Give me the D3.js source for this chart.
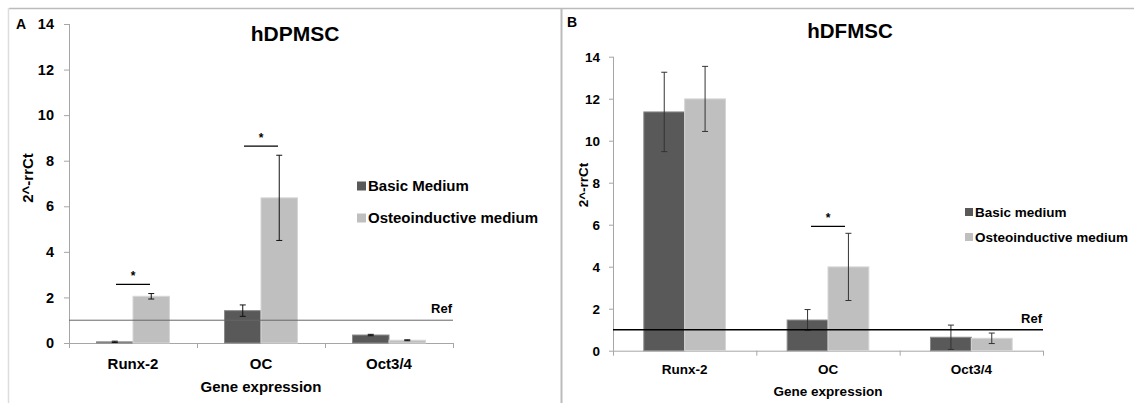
<!DOCTYPE html>
<html>
<head>
<meta charset="utf-8">
<script src="https://cdn.jsdelivr.net/npm/d3@7"></script>
<style>
  body { margin: 0; background: #fff; }
  svg { display: block; font-family: 'Liberation Sans', Arial, sans-serif; font-weight: bold; }
</style>
</head>
<body>
<script>
// categories and tick values
const genes = ['Runx-2', 'OC', 'Oct3/4'];
const yTicks = [0, 2, 4, 6, 8, 10, 12, 14];
const seriesNames = ['basic', 'osteo'];

// panel A (hDPMSC)
const basicA = [0.05, 1.42, 0.35];
const basicErrA = [0.03, 0.25, 0.03];
const osteoA = [2.05, 6.37, 0.12];
const osteoErrA = [0.12, 1.87, 0.02];
const sigA = [['Runx-2', 2.57], ['OC', 8.64]];
const legendA = ['Basic Medium', 'Osteoinductive medium'];

// panel B (hDFMSC)
const basicB = [11.37, 1.46, 0.64];
const basicErrB = [1.89, 0.5, 0.58];
const osteoB = [11.99, 3.99, 0.59];
const osteoErrB = [1.55, 1.6, 0.25];
const sigB = [['OC', 5.92]];
const legendB = ['Basic medium', 'Osteoinductive medium'];

const colors = { basic: '#595959', osteo: '#bfbfbf' };

let svg = d3.select('body')
  .append('svg')
  .attr('width', 1134)
  .attr('height', 403);

// panel frame lines
svg.append('line').attr('x1', 9).attr('x2', 1134).attr('y1', 8.5).attr('y2', 8.5)
  .attr('stroke', '#bbb').attr('stroke-width', 1.5);
svg.append('line').attr('x1', 8.5).attr('x2', 8.5).attr('y1', 8).attr('y2', 403)
  .attr('stroke', '#ddd').attr('stroke-width', 1.5);
svg.append('line').attr('x1', 561.5).attr('x2', 561.5).attr('y1', 8).attr('y2', 403)
  .attr('stroke', '#bbb').attr('stroke-width', 2);

const sigAt = (g, list, x, y) => {
  list.forEach(([gene, level]) => {
    let c = x(gene) + x.bandwidth() / 2;
    g.append('line').attr('x1', c - 17).attr('x2', c + 17)
      .attr('y1', y(level)).attr('y2', y(level))
      .attr('stroke', '#000').attr('stroke-width', 1.2);
    g.append('text').attr('x', c).attr('y', y(level) - 4)
      .attr('text-anchor', 'middle').attr('font-size', 12).text('*');
  });
};

const drawPanel = (p) => {
  let g = svg.append('g');

  let x = d3.scaleBand().domain(genes).range([p.left, p.right]);
  let y = d3.scaleLinear().domain([0, 14]).range([p.bottom, p.top]);
  let groupW = x.bandwidth() * 0.57;
  let x1 = d3.scaleBand().domain(seriesNames)
    .range([(x.bandwidth() - groupW) / 2, (x.bandwidth() + groupW) / 2]);

  // y axis
  let yAxis = g.append('g')
    .attr('transform', `translate(${p.left},0)`)
    .call(d3.axisLeft(y).tickValues(yTicks).tickSize(p.tick).tickPadding(p.tickPad));
  yAxis.attr('font-family', null).attr('font-size', p.tickFont);
  yAxis.selectAll('text').attr('fill', '#000');

  // x axis line and category ticks
  g.append('line').attr('x1', p.left).attr('x2', p.right)
    .attr('y1', p.bottom + 0.5).attr('y2', p.bottom + 0.5).attr('stroke', '#a6a6a6');
  let edges = genes.map((c) => x(c)).concat([p.right]);
  g.selectAll('.xt').data(edges).enter().append('line')
    .attr('x1', (d) => d + 0.5).attr('x2', (d) => d + 0.5)
    .attr('y1', p.bottom).attr('y2', p.bottom + 5).attr('stroke', '#a6a6a6');
  yAxis.selectAll('line').attr('stroke', '#a6a6a6');
  yAxis.select('.domain').attr('stroke', '#a6a6a6').attr('d', `M0.5,${p.bottom}V${p.top}`);

  let rows = [];
  genes.forEach((c, i) => {
    rows.push({ gene: c, s: 'basic', v: p.basic[i], e: p.basicErr[i] });
    rows.push({ gene: c, s: 'osteo', v: p.osteo[i], e: p.osteoErr[i] });
  });

  // bars
  g.selectAll('.bar').data(rows).enter().append('rect')
    .attr('x', (d) => x(d.gene) + x1(d.s))
    .attr('y', (d) => y(d.v))
    .attr('width', x1.bandwidth())
    .attr('height', (d) => y(0) - y(d.v))
    .attr('fill', (d) => colors[d.s])
    .attr('stroke', (d) => d.s === 'basic' ? '#8a8a8a' : '#d6d6d6')
    .attr('stroke-width', 1);

  // error bars
  let eb = g.selectAll('.err').data(rows).enter().append('g')
    .attr('stroke', p.errColor).attr('stroke-width', 1);
  let cx = (d) => x(d.gene) + x1(d.s) + x1.bandwidth() / 2;
  eb.append('line').attr('x1', cx).attr('x2', cx)
    .attr('y1', (d) => y(d.v + d.e)).attr('y2', (d) => y(Math.max(0, d.v - d.e)));
  eb.append('line').attr('x1', (d) => cx(d) - 3).attr('x2', (d) => cx(d) + 3)
    .attr('y1', (d) => y(d.v + d.e)).attr('y2', (d) => y(d.v + d.e));
  eb.append('line').attr('x1', (d) => cx(d) - 3).attr('x2', (d) => cx(d) + 3)
    .attr('y1', (d) => y(Math.max(0, d.v - d.e))).attr('y2', (d) => y(Math.max(0, d.v - d.e)));

  // reference line at 1
  g.append('line').attr('x1', p.left).attr('x2', p.right)
    .attr('y1', y(1)).attr('y2', y(1))
    .attr('stroke', p.refColor).attr('stroke-width', p.refWidth);
  g.append('text').attr('x', p.right - 1).attr('y', y(1) - p.refLift)
    .attr('text-anchor', 'end').attr('font-size', 13).text('Ref');

  // significance marks
  sigAt(g, p.sig, x, y);

  // tick labels and axis titles
  g.selectAll('.xl').data(genes).enter().append('text')
    .attr('x', (d) => x(d) + x.bandwidth() / 2)
    .attr('y', p.xLabelY)
    .attr('text-anchor', 'middle')
    .attr('font-size', p.labelFont)
    .text((d) => d);
  g.append('text').attr('x', x('OC') + x.bandwidth() / 2).attr('y', p.xTitleY)
    .attr('text-anchor', 'middle').attr('font-size', p.labelFont).text('Gene expression');
  g.append('text')
    .attr('transform', `translate(${p.yTitleX},${p.yTitleY}) rotate(-90)`)
    .attr('text-anchor', 'middle').attr('font-size', p.labelFont).text('2^-rrCt');

  g.append('text').attr('x', p.titleX).attr('y', p.titleY)
    .attr('text-anchor', 'middle').attr('font-size', p.titleFont).text(p.title);
  g.append('text').attr('x', p.letterX).attr('y', p.letterY)
    .attr('font-size', 14).text(p.letter);

  // legend
  let lg = g.selectAll('.lg').data(p.legend).enter().append('g')
    .attr('transform', (d, i) => `translate(${p.legX},${p.legY + i * p.legGap})`);
  lg.append('rect').attr('x', 0).attr('y', -p.sq / 2)
    .attr('width', p.sq).attr('height', p.sq)
    .attr('fill', (d, i) => colors[seriesNames[i]]);
  lg.append('text').attr('x', p.sq + 2).attr('dy', '0.35em')
    .attr('font-size', p.legFont).text((d) => d);
};

drawPanel({
  left: 69, right: 453, top: 24, bottom: 343,
  basic: basicA, basicErr: basicErrA, osteo: osteoA, osteoErr: osteoErrA,
  sig: sigA, legend: legendA,
  tick: 5, tickPad: 10, tickFont: 14.5, labelFont: 15,
  errColor: '#111', refColor: '#666', refWidth: 1, refLift: 7,
  xLabelY: 369, xTitleY: 392, yTitleX: 33, yTitleY: 178,
  title: 'hDPMSC', titleX: 295, titleY: 41, titleFont: 21,
  letter: 'A', letterX: 16, letterY: 29,
  legX: 357, legY: 186, legGap: 32, sq: 9, legFont: 15
});

drawPanel({
  left: 613, right: 1043, top: 56.7, bottom: 350.7,
  basic: basicB, basicErr: basicErrB, osteo: osteoB, osteoErr: osteoErrB,
  sig: sigB, legend: legendB,
  tick: 4, tickPad: 9, tickFont: 13.5, labelFont: 13.5,
  errColor: '#333', refColor: '#000', refWidth: 1.5, refLift: 7,
  xLabelY: 374, xTitleY: 396, yTitleX: 588, yTitleY: 185,
  title: 'hDFMSC', titleX: 850, titleY: 38, titleFont: 20.5,
  letter: 'B', letterX: 567, letterY: 27,
  legX: 965, legY: 212, legGap: 25, sq: 8, legFont: 13.5
});
</script>
</body>
</html>
